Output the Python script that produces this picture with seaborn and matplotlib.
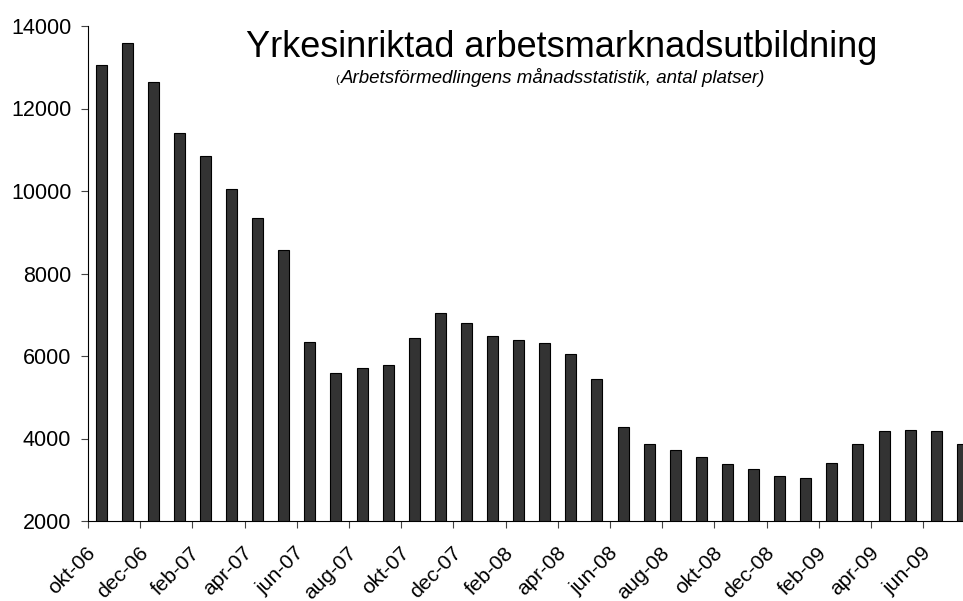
import numpy as np
import pandas as pd
import seaborn as sns
import matplotlib
matplotlib.use('Agg')
import matplotlib.pyplot as plt
from matplotlib.transforms import ScaledTranslation

sns.set_style('white')
plt.rcParams['font.family'] = ['Liberation Sans', 'DejaVu Sans']
plt.rcParams['text.color'] = 'black'
plt.rcParams['xtick.color'] = 'black'
plt.rcParams['ytick.color'] = 'black'

# monthly data, okt-06 .. jul-09
months = ['okt-06', 'nov-06', 'dec-06', 'jan-07', 'feb-07', 'mar-07', 'apr-07', 'maj-07',
          'jun-07', 'jul-07', 'aug-07', 'sep-07', 'okt-07', 'nov-07', 'dec-07', 'jan-08',
          'feb-08', 'mar-08', 'apr-08', 'maj-08', 'jun-08', 'jul-08', 'aug-08', 'sep-08',
          'okt-08', 'nov-08', 'dec-08', 'jan-09', 'feb-09', 'mar-09', 'apr-09', 'maj-09',
          'jun-09', 'jul-09']
platser = [13050, 13580, 12650, 11400, 10840, 10060, 9350, 8560,
           6350, 5590, 5710, 5790, 6430, 7040, 6790, 6490,
           6400, 6320, 6050, 5440, 4280, 3860, 3720, 3540,
           3370, 3250, 3080, 3040, 3410, 3860, 4170, 4210,
           4190, 3860]
ytick_vals = [2000, 4000, 6000, 8000, 10000, 12000, 14000]

df = pd.DataFrame({'month': months, 'platser': platser})

fig = plt.figure(figsize=(9.63, 6.01), dpi=100)
# axes runs past the right edge of the picture, like the original
ax = fig.add_axes([88 / 963, 1 - 521 / 601, 34 * 26.1 / 963, (521 - 26) / 601])

sns.barplot(data=df, x='month', y='platser', color='#333333', edgecolor='black',
            linewidth=0.8, width=0.42, saturation=1, ax=ax)

ax.set_ylim(2000, 14000)
ax.set_xlim(-0.5, len(months) - 0.5)
ax.set_yticks(ytick_vals)
ax.set_xlabel('')
ax.set_ylabel('')

# tick marks between categories every second month, labels under the category
n = len(months)
ax.set_xticks(np.arange(-0.5, n, 2))
ax.set_xticklabels([])
ax.set_xticks(np.arange(0, n, 2), minor=True)
ax.set_xticklabels(months[::2], minor=True, rotation=45, ha='right', va='top',
                   rotation_mode='anchor', fontsize=15)
ax.tick_params(axis='x', which='major', bottom=True, length=5, width=0.8,
               color='#444444', direction='out')
ax.tick_params(axis='x', which='minor', bottom=True, length=0, pad=16)
ax.tick_params(axis='y', left=True, length=5, width=0.8, color='#444444', direction='out',
               labelsize=15.5, pad=7)
for lab in ax.get_xticklabels(minor=True):
    lab.set_transform(lab.get_transform() + ScaledTranslation(-0.15, 0, fig.dpi_scale_trans))

sns.despine(ax=ax, top=True, right=True)
for s in ['left', 'bottom']:
    ax.spines[s].set_color('black')
    ax.spines[s].set_linewidth(0.8)

fig.text(246 / 963, 1 - 57 / 601, 'Yrkesinriktad arbetsmarknadsutbildning',
         fontsize=26, ha='left', va='baseline')
fig.text(335 / 963, 1 - 83 / 601, '(', fontsize=8, ha='left', va='baseline')
fig.text(341 / 963, 1 - 83 / 601, 'Arbetsförmedlingens månadsstatistik, antal platser)',
         fontsize=13.5, style='italic', ha='left', va='baseline')

fig.savefig('out.png', dpi=100)
